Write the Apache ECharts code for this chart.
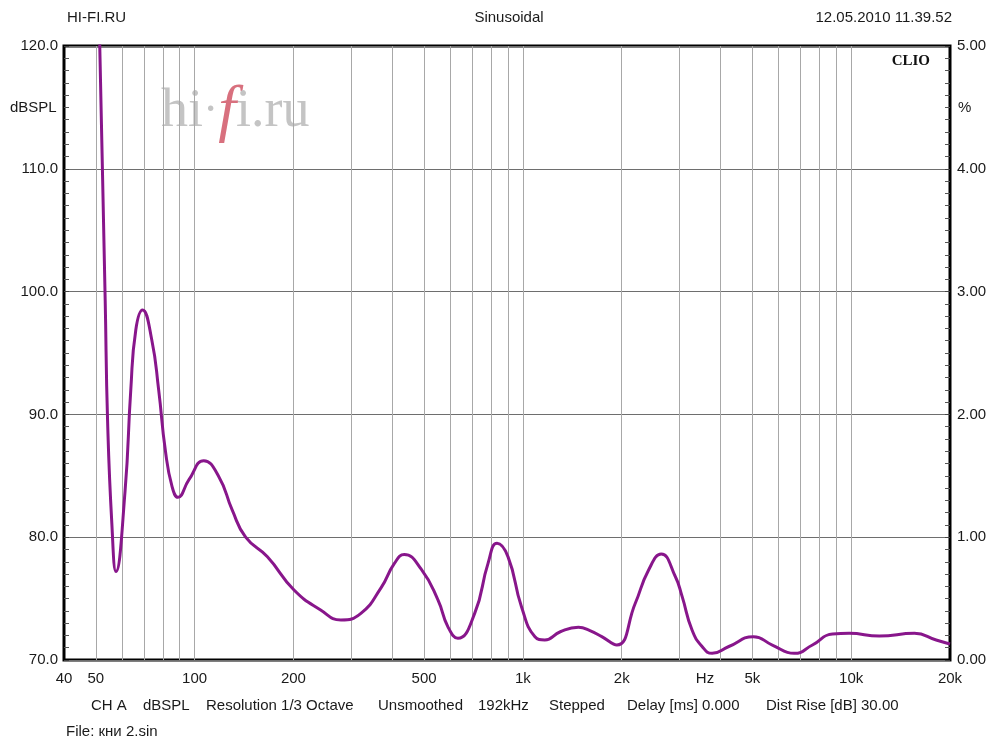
<!DOCTYPE html>
<html>
<head>
<meta charset="utf-8">
<script src="https://cdn.jsdelivr.net/npm/echarts@6/dist/echarts.min.js"></script>
<style>
html,body{margin:0;padding:0;background:#fff;}
#chart{width:992px;height:742px;}
</style>
</head>
<body>
<div id="chart"></div>
<script>
// ---- data ----
const freqHz = [50, 51.5, 53.4, 54.3, 55.95, 57.6, 61.4, 63.9, 66.2, 69.4, 74.0, 77.7, 81.4, 85.4, 89.0, 96.0, 106.6, 118.5, 130.2, 143, 166.6, 200.8, 242, 279, 321, 370, 406, 435, 490, 551, 591, 634, 713, 783, 834, 901, 990, 1088, 1166, 1300, 1476, 1600, 1739, 1932, 2198, 2415, 2639, 2912, 3053, 3275, 3514, 3771, 4240, 5040, 5751, 6700, 7621, 8773, 9865, 12180, 15590, 18150, 20000];
const splDb = [135, 119, 99.3, 89.5, 81.1, 77.2, 83.8, 92.0, 96.9, 98.5, 96.1, 92.0, 87.1, 84.1, 83.25, 84.66, 86.23, 84.93, 82.2, 80.0, 78.4, 75.7, 74.07, 73.26, 73.8, 75.9, 77.87, 78.6, 77.4, 74.9, 72.7, 71.77, 73.8, 77.87, 79.5, 78.4, 74.34, 71.9, 71.63, 72.3, 72.66, 72.4, 71.9, 71.22, 74.6, 77.33, 78.63, 76.8, 75.2, 72.44, 71.1, 70.54, 71.1, 71.9, 71.22, 70.54, 71.22, 72.12, 72.17, 71.95, 72.17, 71.63, 71.3];
const gridFreqs = [50, 60, 70, 80, 90, 100, 200, 300, 400, 500, 600, 700, 800, 900, 1000, 2000, 3000, 4000, 5000, 6000, 7000, 8000, 9000, 10000];
const xTickValues = [40, 50, 100, 200, 500, 1000, 2000, 5000, 10000, 20000];
const xTickLabels = ['40', '50', '100', '200', '500', '1k', '2k', '5k', '10k', '20k'];
const footerItems = ['CH A', 'dBSPL', 'Resolution 1/3 Octave', 'Unsmoothed', '192kHz', 'Stepped', 'Delay [ms] 0.000', 'Dist Rise [dB] 30.00'];
const footerX = [91, 143, 206, 378, 478, 549, 627, 766];

const FONT = "'Liberation Sans', Arial, sans-serif";
const TXT = '#1a1a1a';

const chart = echarts.init(document.getElementById('chart'), null, {renderer: 'canvas'});

const markData = [];
gridFreqs.forEach(v => {
  const idx = xTickValues.indexOf(v);
  markData.push({
    xAxis: v,
    lineStyle: {color: '#a8a8a8', width: 1, type: 'solid'},
    label: idx >= 0 ? {show: true, formatter: xTickLabels[idx]} : {show: false}
  });
});
xTickValues.forEach((v, idx) => {
  if (gridFreqs.indexOf(v) < 0) {
    markData.push({xAxis: v, lineStyle: {color: 'rgba(0,0,0,0)', width: 1}, label: {show: true, formatter: xTickLabels[idx]}});
  }
});

const option = {
  animation: false,
  backgroundColor: '#fff',
  grid: {left: 64, right: 42, top: 46, bottom: 82, show: true, borderColor: '#000', borderWidth: 3, backgroundColor: 'transparent'},
  xAxis: {
    type: 'log', logBase: 10, min: 40, max: 20000,
    axisLine: {show: false}, axisTick: {show: false}, axisLabel: {show: false}, splitLine: {show: false}
  },
  yAxis: [
    {
      type: 'value', min: 70, max: 120, interval: 10, position: 'left',
      axisLine: {show: false},
      axisTick: {show: true, inside: true, length: 5, lineStyle: {color: '#444'}},
      minorTick: {show: true, splitNumber: 10, length: 5, lineStyle: {color: '#555'}},
      axisLabel: {formatter: v => v.toFixed(1), color: TXT, fontSize: 15, fontFamily: FONT, margin: 6},
      splitLine: {show: true, lineStyle: {color: '#6e6e6e', width: 1}}
    },
    {
      type: 'value', min: 0, max: 5, interval: 1, position: 'right',
      axisLine: {show: false},
      axisTick: {show: true, inside: true, length: 5, lineStyle: {color: '#444'}},
      minorTick: {show: true, splitNumber: 10, length: 5, lineStyle: {color: '#555'}},
      axisLabel: {formatter: v => v.toFixed(2), color: TXT, fontSize: 15, fontFamily: FONT, margin: 7},
      splitLine: {show: false}
    }
  ],
  series: [{
    type: 'line',
    yAxisIndex: 0,
    data: freqHz.map((f, i) => [f, splDb[i]]),
    smooth: 0.5,
    showSymbol: false,
    clip: true,
    lineStyle: {color: '#88168b', width: 3},
    z: 5,
    markLine: {
      silent: true,
      symbol: ['none', 'none'],
      animation: false,
      z: 1,
      label: {position: 'start', distance: 11, color: TXT, fontSize: 15, fontFamily: FONT},
      data: markData
    }
  }],
  graphic: [
    {type: 'text', left: 67, top: 10, style: {text: 'HI-FI.RU', fill: TXT, font: '15px ' + FONT}},
    {type: 'text', x: 509, y: 18, style: {text: 'Sinusoidal', fill: TXT, font: '15px ' + FONT, textAlign: 'center', textVerticalAlign: 'middle'}},
    {type: 'text', x: 952, y: 18, style: {text: '12.05.2010 11.39.52', fill: TXT, font: '15px ' + FONT, textAlign: 'right', textVerticalAlign: 'middle'}},
    {type: 'text', x: 10, y: 108, style: {text: 'dBSPL', fill: TXT, font: '15px ' + FONT, textVerticalAlign: 'middle'}},
    {type: 'text', x: 958, y: 108, style: {text: '%', fill: TXT, font: '15px ' + FONT, textVerticalAlign: 'middle'}},
    {type: 'text', x: 705, y: 679, style: {text: 'Hz', fill: TXT, font: '15px ' + FONT, textAlign: 'center', textVerticalAlign: 'middle'}},
    {type: 'text', x: 930, y: 61, z: 10, style: {text: 'CLIO', fill: '#111', font: "bold 15px 'Liberation Serif', 'DejaVu Serif', serif", textAlign: 'right', textVerticalAlign: 'middle'}},
    {type: 'text', x: 161, y: 144, z: 0, style: {
      text: 'hi{d|·}{f|f}i.ru', textVerticalAlign: 'bottom',
      fill: '#c4c4c4', font: "54px 'Liberation Serif', 'DejaVu Serif', serif",
      rich: {
        d: {fill: '#c4c4c4', fontSize: 46, fontFamily: "'Liberation Serif', serif"},
        f: {fill: '#d8707e', fontStyle: 'italic', fontSize: 64, fontFamily: "'Liberation Serif', serif"}
      }
    }},
    {type: 'text', x: 66, y: 732, style: {text: 'File: кни 2.sin', fill: TXT, font: '15px ' + FONT, textVerticalAlign: 'middle'}}
  ].concat(footerItems.map((t, i) => ({
    type: 'text', x: footerX[i], y: 706, style: {text: t, fill: TXT, font: '15px ' + FONT, textVerticalAlign: 'middle'}
  })))
};
chart.setOption(option);
</script>
</body>
</html>
